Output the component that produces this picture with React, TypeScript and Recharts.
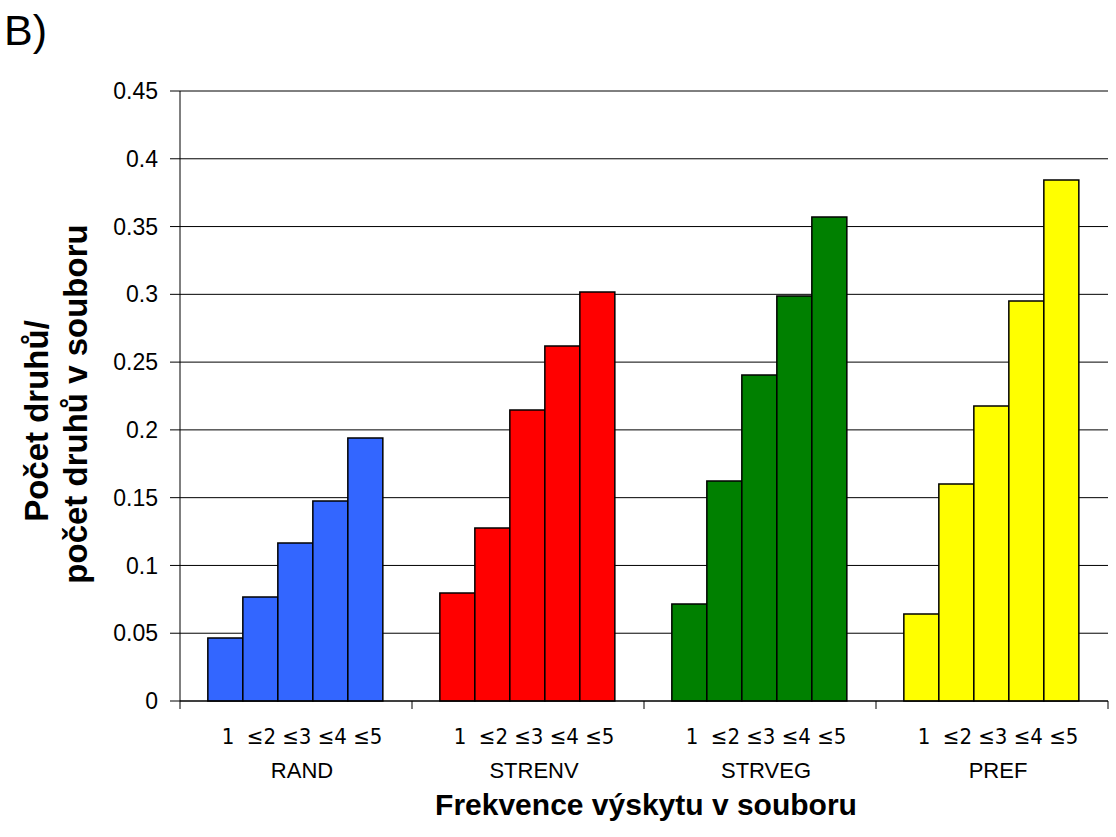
import React from 'react';
import { BarChart, Bar, XAxis, YAxis, CartesianGrid, Cell } from 'recharts';

const categories = ['RAND', 'STRENV', 'STRVEG', 'PREF'];
const freqClasses = ['1', '≤2', '≤3', '≤4', '≤5'];
const randValues = [0.0465, 0.0767, 0.1166, 0.1475, 0.194];
const strenvValues = [0.0797, 0.1276, 0.2147, 0.2619, 0.3017];
const strvegValues = [0.0716, 0.1623, 0.2405, 0.2988, 0.357];
const prefValues = [0.0642, 0.16, 0.2176, 0.295, 0.3843];
const yTicks = [0, 0.05, 0.1, 0.15, 0.2, 0.25, 0.3, 0.35, 0.4, 0.45];

const groupColors = ['#3366FF', '#FF0000', '#008000', '#FFFF00'];

const W = 1116;
const H = 837;
const PLOT_LEFT = 180;
const PLOT_RIGHT = 1108;
const BAND = (PLOT_RIGHT - PLOT_LEFT) / categories.length;

const groups = [randValues, strenvValues, strvegValues, prefValues];
const data = categories.map((name, i) => {
  const row: Record<string, any> = { name };
  freqClasses.forEach((_, j) => {
    row[`f${j}`] = groups[i][j];
  });
  return row;
});

const subLabel = freqClasses[0] + '\u00a0\u00a0' + freqClasses.slice(1).join(' ');

function CategoryTick(props: any) {
  const { x, y, payload, index } = props;
  const left = x - BAND / 2;
  return (
    <g>
      <line x1={left} y1={y} x2={left} y2={y + 8} stroke="#000" strokeWidth={1} />
      {index === categories.length - 1 && (
        <line x1={x + BAND / 2} y1={y} x2={x + BAND / 2} y2={y + 8} stroke="#000" strokeWidth={1} />
      )}
      <text
        x={x + 6}
        y={y + 43}
        textAnchor="middle"
        fontFamily="DejaVu Sans Condensed"
        fontSize={22}
        fill="#000"
      >
        {subLabel}
      </text>
      <text x={x + 6} y={y + 77} textAnchor="middle" fontFamily="Liberation Sans" fontSize={22} fill="#000">
        {payload.value}
      </text>
    </g>
  );
}

export default function App() {
  return (
    <div style={{ position: 'absolute', left: 0, top: 0, width: W, height: H, background: '#fff' }}>
      <BarChart
        width={W}
        height={H}
        data={data}
        margin={{ top: 91, right: W - PLOT_RIGHT, bottom: 26, left: 100 }}
        barCategoryGap="12%"
        barGap={0}
      >
        <CartesianGrid vertical={false} stroke="#000" strokeWidth={1} />
        <XAxis
          dataKey="name"
          height={110}
          axisLine={{ stroke: '#000', strokeWidth: 1 }}
          tickLine={false}
          tickSize={0}
          tickMargin={0}
          tick={<CategoryTick />}
          interval={0}
        />
        <YAxis
          width={80}
          domain={[0, 0.45]}
          ticks={yTicks}
          interval={0}
          axisLine={{ stroke: '#000', strokeWidth: 1 }}
          tickLine={{ stroke: '#000', strokeWidth: 1 }}
          tickSize={10}
          tickMargin={12}
          tick={{ fill: '#000', fontFamily: 'Liberation Sans', fontSize: 23 }}
        />
        {freqClasses.map((f, j) => (
          <Bar key={f} dataKey={`f${j}`} name={f} stroke="#000" strokeWidth={1.5} isAnimationActive={false}>
            {data.map((d, i) => (
              <Cell key={d.name} fill={groupColors[i]} />
            ))}
          </Bar>
        ))}
      </BarChart>
      <svg
        width={W}
        height={H}
        style={{ position: 'absolute', left: 0, top: 0, pointerEvents: 'none' }}
      >
        <text x={4} y={45} fontFamily="Liberation Sans" fontSize={43} fill="#000">
          B)
        </text>
        <text
          transform="translate(48,421) rotate(-90)"
          textAnchor="middle"
          fontFamily="Liberation Sans"
          fontWeight="bold"
          fontSize={33}
          fill="#000"
        >
          Počet druhů/
        </text>
        <text
          transform="translate(87,404) rotate(-90)"
          textAnchor="middle"
          fontFamily="Liberation Sans"
          fontWeight="bold"
          fontSize={33}
          fill="#000"
        >
          počet druhů v souboru
        </text>
        <text
          x={646}
          y={815}
          textAnchor="middle"
          fontFamily="Liberation Sans"
          fontWeight="bold"
          fontSize={30}
          fill="#000"
        >
          Frekvence výskytu v souboru
        </text>
      </svg>
    </div>
  );
}
